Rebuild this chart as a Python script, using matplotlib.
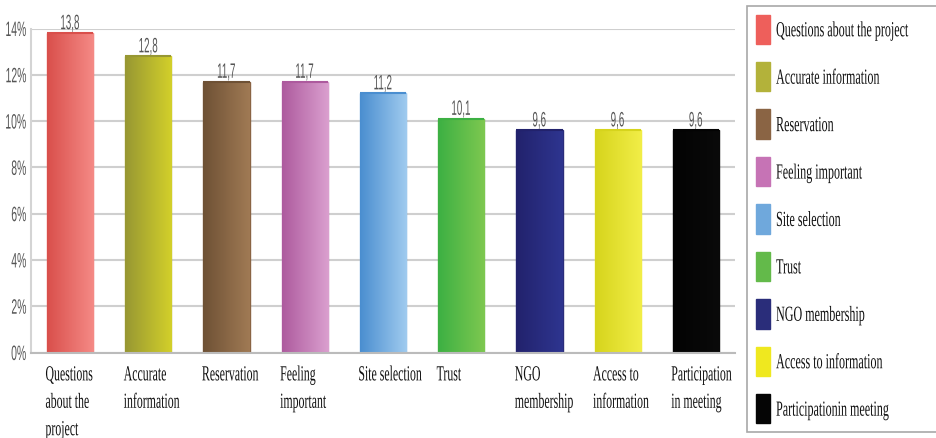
import numpy as np
import matplotlib
matplotlib.use("Agg")
import matplotlib.pyplot as plt
from matplotlib.colors import LinearSegmentedColormap
from matplotlib.patches import Patch
from matplotlib.patheffects import AbstractPathEffect
from matplotlib.transforms import Affine2D

# data
categories = ['Questions\nabout the\nproject', 'Accurate\ninformation', 'Reservation',
              'Feeling\nimportant', 'Site selection', 'Trust', 'NGO\nmembership',
              'Access to\ninformation', 'Participation\nin meeting']
legend_labels = ['Questions about the project', 'Accurate information', 'Reservation',
                 'Feeling important', 'Site selection', 'Trust', 'NGO membership',
                 'Access to information', 'Participationin meeting']
values = [13.8, 12.8, 11.7, 11.7, 11.2, 10.1, 9.6, 9.6, 9.6]
value_labels = ['13,8', '12,8', '11,7', '11,7', '11,2', '10,1', '9,6', '9,6', '9,6']
yticks = [0, 2, 4, 6, 8, 10, 12, 14]

# colours: legend swatch, gradient left, gradient right
solid = ['#ee5f5b', '#b3b23a', '#8a6444', '#c673b5', '#6fa8dc', '#63ba4a', '#2a2d7a', '#efe81f', '#050505']
grad_left = ['#d94f4b', '#979733', '#6e5135', '#ad5a9e', '#4a8ed0', '#3cb043', '#22226c', '#d6d41c', '#030303']
grad_right = ['#f58a86', '#d3d02a', '#a07a54', '#dba0cf', '#a0cbef', '#7ec850', '#2e3590', '#f2ee48', '#0a0a0a']


class Squeeze(AbstractPathEffect):
    """squash text horizontally (the original uses condensed fonts)"""
    def __init__(self, sx=0.6, anchor='left'):
        super().__init__()
        self.sx = sx
        self.anchor = anchor

    def draw_path(self, renderer, gc, tpath, affine, rgbFace=None):
        verts = affine.transform(tpath.vertices)
        if len(verts) == 0:
            return
        if self.anchor == 'left':
            x0 = verts[:, 0].min()
        elif self.anchor == 'right':
            x0 = verts[:, 0].max()
        else:
            x0 = (verts[:, 0].min() + verts[:, 0].max()) / 2
        sq = Affine2D().translate(-x0, 0).scale(self.sx, 1).translate(x0, 0)
        renderer.draw_path(gc, tpath, affine + sq, rgbFace)


fig = plt.figure(figsize=(9.37, 4.39), dpi=100)
ax = fig.add_axes([31 / 937, 1 - 353.5 / 439, 704 / 937, 324 / 439])

x = np.arange(len(values))
w = 0.59
bars = ax.bar(x, values, width=w, color=solid, edgecolor=solid, linewidth=1, zorder=2)

# gradient fill inside each bar
grad = np.linspace(0, 1, 256).reshape(1, -1)
for b, c0, c1 in zip(bars, grad_left, grad_right):
    cmap = LinearSegmentedColormap.from_list('g', [c0, c1])
    ax.imshow(grad, cmap=cmap, aspect='auto', zorder=2.5,
              extent=[b.get_x(), b.get_x() + b.get_width(), 0, b.get_height()])
    ax.plot([b.get_x(), b.get_x() + b.get_width()], [b.get_height()] * 2,
            color=c0, lw=1.5, zorder=3, solid_capstyle='butt')

for xi, v, t in zip(x, values, value_labels):
    ax.text(xi, v + 0.17, t, ha='center', va='baseline', fontsize=15, color='#555555',
            family=['Liberation Sans', 'DejaVu Sans'],
            path_effects=[Squeeze(0.47, 'center')], clip_on=False)

ax.set_xlim(-0.5, len(values) - 0.5)
ax.set_ylim(0, 14)
ax.set_yticks(yticks)
ax.set_yticklabels([f'{t}%' for t in yticks], fontsize=15, color='#555555',
                   family=['Liberation Sans', 'DejaVu Sans'])
for lab in ax.get_yticklabels():
    lab.set_path_effects([Squeeze(0.5, 'right')])

ax.set_xticks(x - w / 2 - 0.02)
ax.set_xticklabels(categories, ha='left', va='top', fontsize=15.5, linespacing=1.6,
                   family=['Liberation Serif', 'DejaVu Serif'], color='#111111')
for lab in ax.get_xticklabels():
    lab.set_path_effects([Squeeze(0.55, 'left')])
ax.tick_params(axis='both', length=0)
ax.tick_params(axis='y', pad=3)
ax.tick_params(axis='x', pad=10)

ax.grid(axis='y', color='#cfcfcf', lw=1.5, zorder=0)
ax.set_axisbelow(True)
for s in ['top', 'right']:
    ax.spines[s].set_visible(False)
ax.spines['left'].set_color('#d4d4d4')
ax.spines['left'].set_linewidth(1.5)
ax.spines['bottom'].set_color('#bbbbbb')
ax.spines['bottom'].set_linewidth(1.5)

handles = [Patch(facecolor=c, edgecolor=c) for c in solid]
leg = fig.legend(handles, legend_labels, loc='upper left',
                 bbox_to_anchor=(747 / 937, 1 - 7 / 439), bbox_transform=fig.transFigure,
                 prop={'family': ['Liberation Serif', 'DejaVu Serif'], 'size': 15.5},
                 handlelength=0.65, handleheight=1.72, handletextpad=0.3,
                 labelspacing=0.84, borderpad=0.4, borderaxespad=0,
                 fancybox=False, framealpha=1, edgecolor='#a8a8a8')
leg.get_frame().set_linewidth(1.2)
for t in leg.get_texts():
    t.set_path_effects([Squeeze(0.56, 'left')])
    t.set_color('#111111')

fig.savefig('out.png', dpi=100)
